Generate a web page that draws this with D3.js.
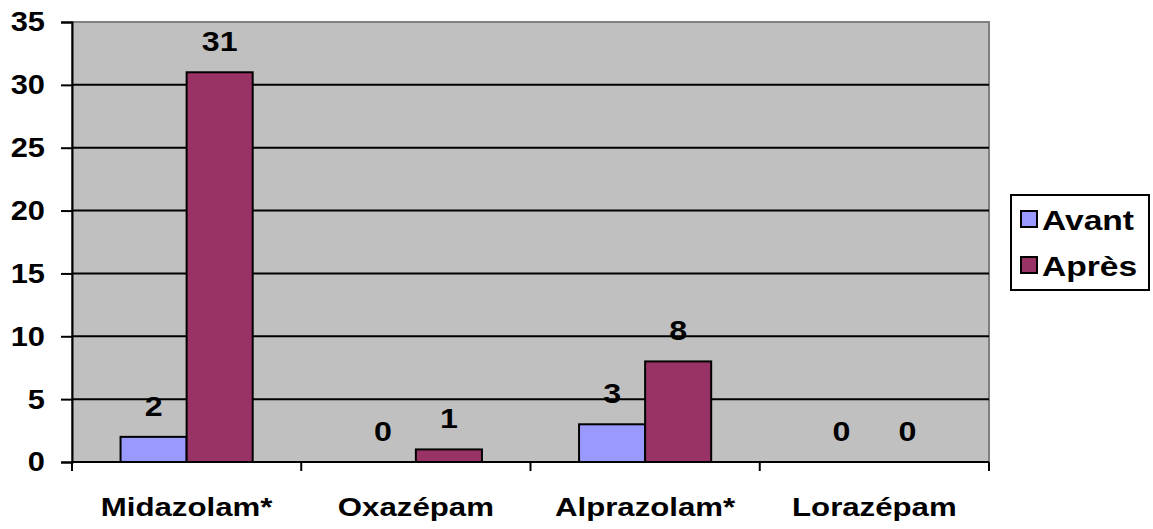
<!DOCTYPE html>
<html><head><meta charset="utf-8">
<script src="https://cdn.jsdelivr.net/npm/d3@7"></script>
<style>body{margin:0;background:#fff}text{font-family:"Liberation Sans",Arial,sans-serif;font-weight:bold}</style>
</head><body><svg id="c" width="1153" height="529"></svg>
<script>
const categories = ["Midazolam*", "Oxazépam", "Alprazolam*", "Lorazépam"];
const seriesNames = ["Avant", "Après"];
const avant = [2, 0, 3, 0];
const apres = [31, 1, 8, 0];
const yTicks = [0, 5, 10, 15, 20, 25, 30, 35];
const colors = ["#9999FF", "#993366"];

const svg = d3.select("#c");
const L = 72, R = 989, T = 22, B = 462;
const x = d3.scaleBand().domain(categories).range([L, R]).paddingInner(0).paddingOuter(0);
const y = d3.scaleLinear().domain([0, 35]).range([B, T]);
const x1 = d3.scaleBand().domain(seriesNames).range([0, x.bandwidth()]).paddingOuter(0.735).paddingInner(0);

// stretched text helper: places text at (px,py) scaled horizontally by sx
function stxt(sel, px, py, sx) {
  return sel.attr("x", px / sx).attr("y", py).attr("transform", `scale(${sx},1)`);
}

svg.append("rect").attr("x", L).attr("y", T).attr("width", R - L).attr("height", B - T)
  .attr("fill", "#C0C0C0").attr("stroke", "#808080").attr("stroke-width", 2);

// gridlines
svg.append("g").selectAll("line").data(yTicks.filter(d => d > 0 && d < 35)).join("line")
  .attr("x1", L).attr("x2", R).attr("y1", d => y(d)).attr("y2", d => y(d))
  .attr("stroke", "#000").attr("stroke-width", 2);

// y axis
const ya = svg.append("g").attr("transform", `translate(${L},0)`)
  .call(d3.axisLeft(y).tickValues(yTicks).tickSize(11).tickPadding(16));
ya.select(".domain").attr("stroke", "#000").attr("stroke-width", 2);
ya.selectAll(".tick line").attr("stroke", "#000").attr("stroke-width", 2);
ya.selectAll("text").attr("font-size", 28).attr("fill", "#000")
  .attr("font-family", "Liberation Sans, Arial").attr("font-weight", "bold")
  .each(function() {
    const t = d3.select(this); const sx = 1.1;
    t.attr("x", +t.attr("x") / sx).attr("transform", `scale(${sx},1)`);
  });

// bars
const data = categories.map((c, i) => ({c, vals: [avant[i], apres[i]]}));
const g = svg.append("g");
data.forEach(d => {
  d.vals.forEach((v, j) => {
    const bx = x(d.c) + x1(seriesNames[j]);
    if (v > 0) {
      g.append("rect").attr("x", bx).attr("y", y(v)).attr("width", x1.bandwidth()).attr("height", y(0) - y(v))
        .attr("fill", colors[j]).attr("stroke", "#000").attr("stroke-width", 2);
    }
    stxt(g.append("text"), bx + x1.bandwidth() / 2, y(v) - 21, 1.15)
      .attr("text-anchor", "middle").attr("font-size", 28).attr("fill", "#000").text(v);
  });
});

// x axis
const xa = svg.append("g");
xa.append("line").attr("x1", L).attr("x2", R).attr("y1", B).attr("y2", B).attr("stroke", "#000").attr("stroke-width", 2);
const bounds = categories.map(c => x(c)).concat([R]);
xa.selectAll(".tk").data(bounds).join("line").attr("class", "tk")
  .attr("x1", d => d).attr("x2", d => d).attr("y1", B).attr("y2", B + 9)
  .attr("stroke", "#000").attr("stroke-width", 2);
categories.forEach(c => {
  stxt(xa.append("text"), x(c) + x.bandwidth() / 2, B + 54, 1.2)
    .attr("text-anchor", "middle").attr("font-size", 26).attr("fill", "#000").text(c);
});

// legend
const lg = svg.append("g");
lg.append("rect").attr("x", 1011).attr("y", 195).attr("width", 138).attr("height", 95)
  .attr("fill", "#fff").attr("stroke", "#000").attr("stroke-width", 2);
seriesNames.forEach((s, i) => {
  lg.append("rect").attr("x", 1021).attr("y", 211 + i * 46).attr("width", 16).attr("height", 16)
    .attr("fill", colors[i]).attr("stroke", "#000").attr("stroke-width", 2);
  stxt(lg.append("text"), 1042, 230 + i * 46, 1.2).attr("font-size", 28).attr("fill", "#000").text(s);
});
</script></body></html>
